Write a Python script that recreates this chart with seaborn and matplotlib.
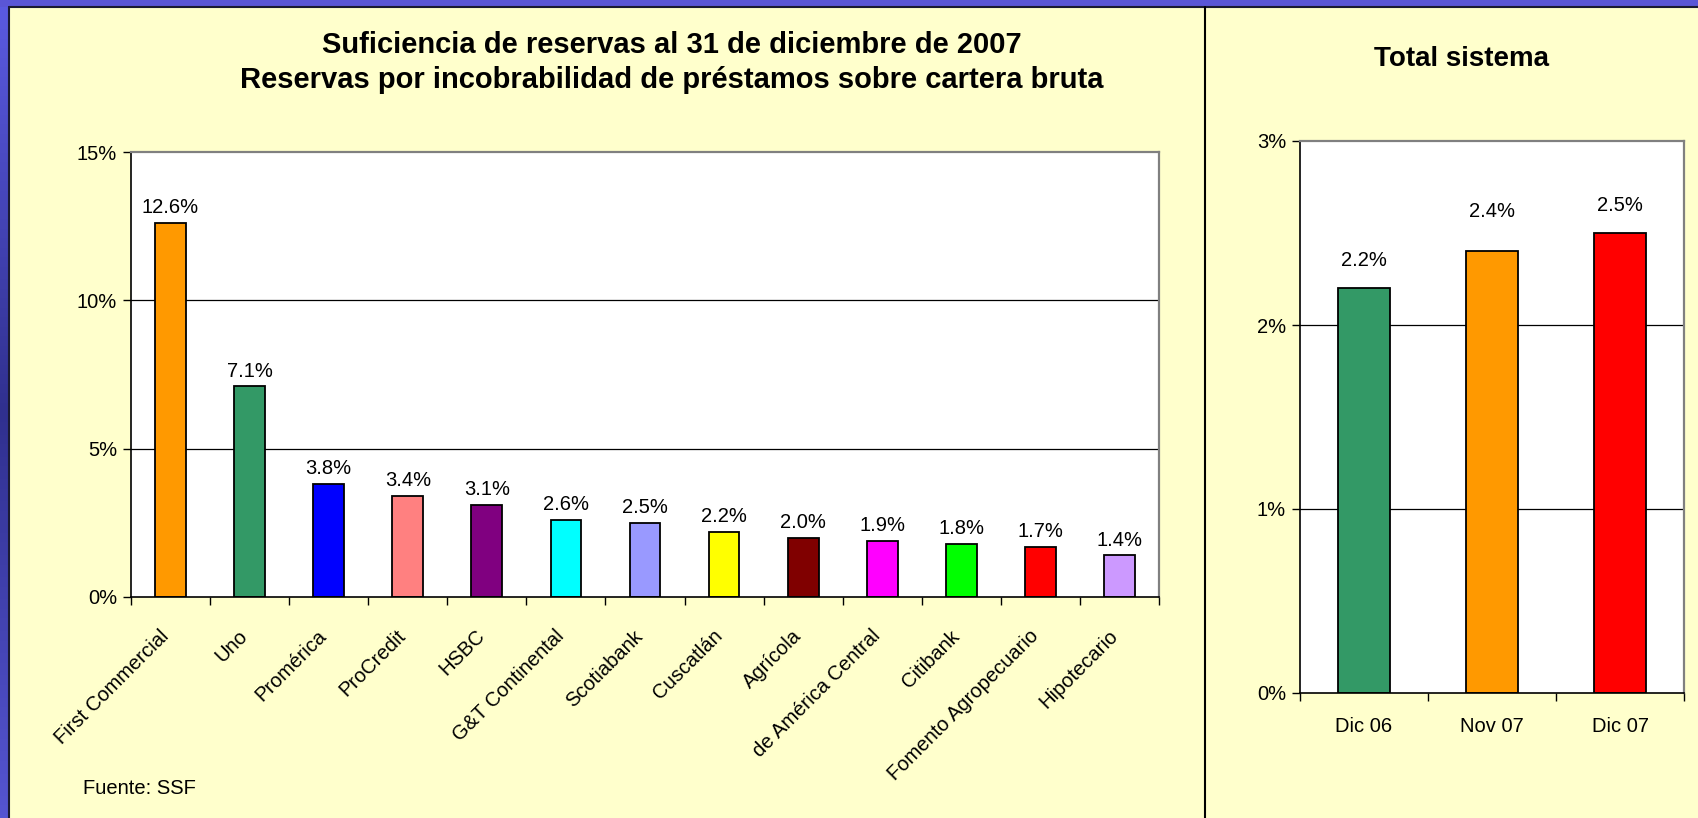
import numpy as np
import pandas as pd
import matplotlib
matplotlib.use("Agg")
import matplotlib.pyplot as plt
import seaborn as sns
from matplotlib.lines import Line2D
from matplotlib.patches import Rectangle
from matplotlib.colors import LinearSegmentedColormap
from matplotlib.transforms import ScaledTranslation

# ---------------- data ----------------
banks = ["First Commercial", "Uno", "Promérica", "ProCredit", "HSBC", "G&T Continental",
         "Scotiabank", "Cuscatlán", "Agrícola", "de América Central", "Citibank",
         "Fomento Agropecuario", "Hipotecario"]
bank_values = [12.6, 7.1, 3.8, 3.4, 3.1, 2.6, 2.5, 2.2, 2.0, 1.9, 1.8, 1.7, 1.4]
bank_colors = ["#FF9900", "#339966", "#0000FF", "#FF8080", "#800080", "#00FFFF",
               "#9999FF", "#FFFF00", "#800000", "#FF00FF", "#00FF00", "#FF0000", "#CC99FF"]

periods = ["Dic 06", "Nov 07", "Dic 07"]
period_values = [2.2, 2.4, 2.5]
period_colors = ["#339966", "#FF9900", "#FF0000"]

left_ticks = [0, 5, 10, 15]
right_ticks = [0, 1, 2, 3]

title_left = ("Suficiencia de reservas al 31 de diciembre de 2007",
              "Reservas por incobrabilidad de préstamos sobre cartera bruta")
title_right = "Total sistema"
source = "Fuente: SSF"

# ---------------- style ----------------
sns.set_style("white")
plt.rcParams["font.family"] = ["Liberation Sans", "DejaVu Sans"]
plt.rcParams["text.color"] = "black"
plt.rcParams["xtick.color"] = "black"
plt.rcParams["ytick.color"] = "black"
plt.rcParams["axes.labelcolor"] = "black"

W, H = 1698, 818
fig = plt.figure(figsize=(W / 100, H / 100), dpi=100, facecolor="#5A56D6")

def fx(px):
    return px / W

def fy(py):
    return 1 - py / H

# yellow panel
fig.patches.append(Rectangle((fx(9), 0), 1 - fx(9), fy(7), transform=fig.transFigure,
                             facecolor="#FFFFCC", edgecolor="none", zorder=-10))
# left gradient band
gax = fig.add_axes([0, 0, fx(9), fy(7)], zorder=-5)
cmap = LinearSegmentedColormap.from_list("band", ["#5A5AE0", "#30308F", "#5555D2"])
grad = np.linspace(0, 1, 256).reshape(-1, 1)
gax.imshow(grad, aspect="auto", cmap=cmap, extent=[0, 1, 0, 1])
gax.set_axis_off()
# dark edge lines
fig.add_artist(Line2D([fx(9), fx(9)], [0, fy(7)], color="#1A1A33", lw=1.5, transform=fig.transFigure))
fig.add_artist(Line2D([fx(9), 1], [fy(7), fy(7)], color="#1A1A33", lw=1.5, transform=fig.transFigure))
# divider
fig.add_artist(Line2D([fx(1205), fx(1205)], [0, fy(7)], color="black", lw=1.5, transform=fig.transFigure))

FS = 14.5

def style_axes(ax, ticks, ymax, ncat):
    ax.set_facecolor("white")
    ax.set_ylim(0, ymax)
    ax.set_xlim(-0.5, ncat - 0.5)
    ax.set_yticks(ticks)
    ax.set_yticklabels([f"{t}%" for t in ticks], fontsize=FS)
    for t in ticks[1:-1]:
        ax.axhline(t, color="black", lw=0.9, zorder=0.5)
    for s in ["left", "bottom"]:
        ax.spines[s].set_color("black")
        ax.spines[s].set_linewidth(1.2)
    for s in ["top", "right"]:
        ax.spines[s].set_color("#808080")
        ax.spines[s].set_linewidth(1.6)
    ax.tick_params(axis="y", direction="out", length=6, width=1, color="black", pad=4, left=True)
    ax.set_xticks(np.arange(-0.5, ncat, 1), minor=True)
    ax.tick_params(axis="x", which="minor", direction="out", length=6, width=1, color="black", bottom=True)
    ax.set_xlabel("")
    ax.set_ylabel("")

# ---------------- left chart ----------------
axL = fig.add_axes([fx(131), fy(597), fx(1159) - fx(131), fy(152) - fy(597)])
dfL = pd.DataFrame({"banco": banks, "valor": bank_values})
sns.barplot(data=dfL, x="banco", y="valor", hue="banco", palette=bank_colors, order=banks,
            hue_order=banks, width=0.39, edgecolor="black", linewidth=1.3, legend=False,
            saturation=1, ax=axL, zorder=2)
style_axes(axL, left_ticks, 15, len(banks))
axL.set_xticks(range(len(banks)))
axL.set_xticklabels(banks, rotation=45, ha="right", va="center", rotation_mode="anchor", fontsize=FS)
axL.tick_params(axis="x", which="major", length=0, pad=26)
shift = ScaledTranslation(-5 / 100, 0, fig.dpi_scale_trans)
for lbl in axL.get_xticklabels():
    lbl.set_transform(lbl.get_transform() + shift)
for i, v in enumerate(bank_values):
    axL.annotate(f"{v:.1f}%", (i, v), xytext=(0, 11), textcoords="offset points",
                 ha="center", va="center", fontsize=FS)

fig.text(fx(672), fy(45), title_left[0], ha="center", va="center", fontsize=21, fontweight="bold")
fig.text(fx(672), fy(80), title_left[1], ha="center", va="center", fontsize=21, fontweight="bold")
fig.text(fx(83), fy(789), source, ha="left", va="center", fontsize=FS)

# ---------------- right chart ----------------
axR = fig.add_axes([fx(1300), fy(693), fx(1684) - fx(1300), fy(141) - fy(693)])
dfR = pd.DataFrame({"periodo": periods, "valor": period_values})
sns.barplot(data=dfR, x="periodo", y="valor", hue="periodo", palette=period_colors, order=periods,
            hue_order=periods, width=0.41, edgecolor="black", linewidth=1.3, legend=False,
            saturation=1, ax=axR, zorder=2)
style_axes(axR, right_ticks, 3, len(periods))
axR.set_xticks(range(len(periods)))
axR.set_xticklabels(periods, fontsize=FS)
axR.tick_params(axis="x", which="major", length=0, pad=17)
label_offsets = [20, 29, 20]
for i, v in enumerate(period_values):
    axR.annotate(f"{v:.1f}%", (i, v), xytext=(0, label_offsets[i]), textcoords="offset points",
                 ha="center", va="center", fontsize=FS)

fig.text(fx(1462), fy(59), title_right, ha="center", va="center", fontsize=20, fontweight="bold")

fig.savefig("out.png", dpi=100, facecolor=fig.get_facecolor())
